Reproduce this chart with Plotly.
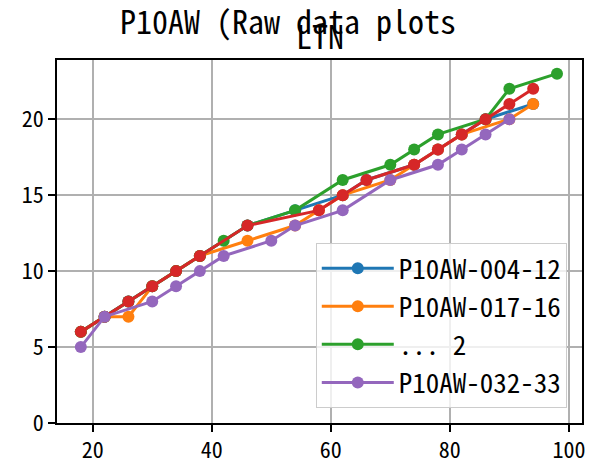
import plotly.graph_objects as go

# x positions and cumulative counts
x_004 = [18, 22, 26, 30, 34, 38, 46, 54, 62, 66, 74, 78, 82, 86, 94]
y_004 = [6, 7, 8, 9, 10, 11, 13, 14, 15, 16, 17, 18, 19, 20, 21]

x_017 = [18, 22, 26, 30, 34, 38, 46, 54, 58, 62, 70, 74, 78, 82, 90, 94]
y_017 = [6, 7, 7, 9, 10, 11, 12, 13, 14, 15, 16, 17, 18, 19, 20, 21]

x_g2 = [18, 22, 26, 30, 34, 38, 42, 46, 54, 62, 70, 74, 78, 86, 90, 98]
y_g2 = [6, 7, 8, 9, 10, 11, 12, 13, 14, 16, 17, 18, 19, 20, 22, 23]

x_red = [18, 22, 26, 30, 34, 38, 46, 58, 62, 66, 74, 78, 82, 86, 90, 94]
y_red = [6, 7, 8, 9, 10, 11, 13, 14, 15, 16, 17, 18, 19, 20, 21, 22]

x_032 = [18, 22, 30, 34, 38, 42, 50, 54, 62, 70, 78, 82, 86, 90]
y_032 = [5, 7, 8, 9, 10, 11, 12, 13, 14, 16, 17, 18, 19, 20]

x_ticks = [20, 40, 60, 80, 100]
y_ticks = [0, 5, 10, 15, 20]

FONT = "Noto Sans Mono CJK JP, Noto Sans CJK JP, DejaVu Sans Mono, monospace"

series = [
    ("P10AW-004-12", x_004, y_004, "#1f77b4", True),
    ("P10AW-017-16", x_017, y_017, "#ff7f0e", True),
    ("... 2", x_g2, y_g2, "#2ca02c", True),
    ("red", x_red, y_red, "#d62728", False),
    ("P10AW-032-33", x_032, y_032, "#9467bd", True),
]

fig = go.Figure()
for name, xs, ys, col, show in series:
    fig.add_trace(go.Scatter(x=xs, y=ys, name=name, mode="lines+markers",
                             line=dict(color=col, width=3),
                             marker=dict(color=col, size=12),
                             showlegend=show))

axis = dict(showline=True, linecolor="black", linewidth=1.8, mirror=True,
            ticks="outside", ticklen=7, tickwidth=1.8, tickcolor="black",
            showgrid=True, gridcolor="#b0b0b0", gridwidth=1.6, zeroline=False,
            automargin=False,
            tickfont=dict(size=22, color="black", family=FONT))

# page body has an 8px margin, so the figure is a bit smaller than the window
fig.update_layout(
    width=587, height=458,
    margin=dict(l=49, r=13, t=52, b=43),
    plot_bgcolor="white", paper_bgcolor="white",
    font=dict(family=FONT, color="black"),
    xaxis=dict(range=[14, 102.2], tickvals=x_ticks, **axis),
    yaxis=dict(range=[0, 23.9], tickvals=y_ticks, **axis),
    legend=dict(x=0.971, y=0.041, xanchor="right", yanchor="bottom",
                bgcolor="rgba(255,255,255,0.8)", bordercolor="#cccccc",
                borderwidth=1, font=dict(size=27, family=FONT), itemwidth=72),
    annotations=[
        dict(text="P10AW (Raw data plots", x=0.44, y=1.11, xref="paper", yref="paper",
             xanchor="center", yanchor="middle",
             showarrow=False, font=dict(size=32, family=FONT)),
        dict(text="LTN", x=0.5, y=1.068, xref="paper", yref="paper",
             xanchor="center", yanchor="middle",
             showarrow=False, font=dict(size=32, family=FONT)),
    ],
)

fig.write_html("out.html")
